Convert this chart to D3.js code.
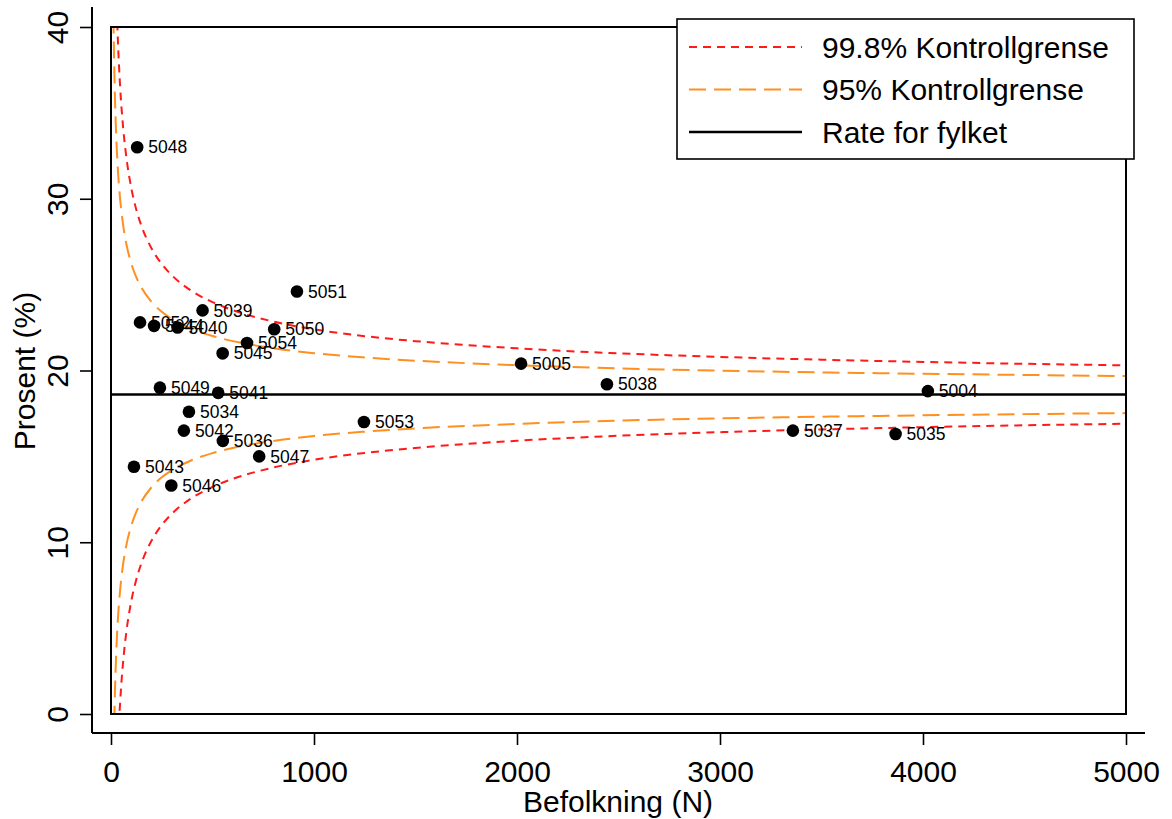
<!DOCTYPE html>
<html lang="no">
<head>
  <meta charset="UTF-8">
  <title>Funnel plot</title>
  <script src="https://d3js.org/d3.v7.min.js"></script>
  <style>
    body { margin: 0; background: #fff; }
    text { font-family: "Liberation Sans", Arial, sans-serif; }
  </style>
</head>
<body>

  <script>
    ((window, document) => {
      "use strict";


      /**
       * -----------------------------------------------------------------------
       *  Data
       * -----------------------------------------------------------------------
       */

      // Kommuner
      const ids = ["5048", "5051", "5039", "5052", "5044", "5040", "5050", "5054",
                   "5045", "5005", "5049", "5041", "5038", "5004", "5034", "5053",
                   "5042", "5036", "5047", "5043", "5046", "5037", "5035"];
      const population = [129, 916, 451, 143, 212, 328, 804, 670,
                          550, 2020, 241, 528, 2443, 4024, 384, 1246,
                          359, 551, 730, 113, 297, 3359, 3865];
      const percent = [33.0, 24.6, 23.5, 22.8, 22.6, 22.5, 22.4, 21.6,
                       21.0, 20.4, 19.0, 18.7, 19.2, 18.8, 17.6, 17.0,
                       16.5, 15.9, 15.0, 14.4, 13.3, 16.5, 16.3];

      // Rate for fylket
      const countyRate = 18.6;

      // Kontrollgrenser
      const limitN = [12, 13, 14, 15, 16, 17, 18, 20, 22, 25, 28, 32, 36, 40, 45, 50,
                      60, 75, 100, 125, 150, 200, 250, 300, 400, 500, 600, 800,
                      1000, 1250, 1500, 2000, 2500, 3000, 3500, 4000, 4500, 5000];
      const upper95 = [40.62, 39.75, 38.98, 38.29, 37.67, 37.10, 36.58, 35.65, 34.86, 33.85,
                       33.01, 32.08, 31.31, 30.66, 29.97, 29.39, 28.45, 27.41, 26.23, 25.42,
                       24.83, 23.99, 23.42, 23.00, 22.41, 22.01, 21.71, 21.30, 21.01, 20.76,
                       20.57, 20.31, 20.12, 19.99, 19.89, 19.81, 19.74, 19.68];
      const lower95 = [-3.42, -2.55, -1.78, -1.09, -0.47, 0.10, 0.62, 1.55, 2.34, 3.35,
                       4.19, 5.12, 5.89, 6.54, 7.23, 7.81, 8.75, 9.79, 10.97, 11.78,
                       12.37, 13.21, 13.78, 14.20, 14.79, 15.19, 15.49, 15.90, 16.19, 16.44,
                       16.63, 16.89, 17.08, 17.21, 17.31, 17.39, 17.46, 17.52];
      const upper998 = [53.31, 51.95, 50.74, 49.65, 48.66, 47.76, 46.94, 45.49, 44.23, 42.65,
                        41.32, 39.86, 38.64, 37.61, 36.53, 35.60, 34.12, 32.48, 30.62, 29.35,
                        28.42, 27.10, 26.20, 25.54, 24.61, 23.98, 23.51, 22.85, 22.40, 22.00,
                        21.71, 21.29, 21.00, 20.79, 20.63, 20.50, 20.39, 20.30];
      const lower998 = [-16.11, -14.75, -13.54, -12.45, -11.46, -10.56, -9.74, -8.29, -7.03, -5.45,
                        -4.12, -2.66, -1.44, -0.41, 0.67, 1.60, 3.08, 4.72, 6.58, 7.85,
                        8.78, 10.10, 11.00, 11.66, 12.59, 13.22, 13.69, 14.35, 14.80, 15.20,
                        15.49, 15.91, 16.20, 16.41, 16.57, 16.70, 16.81, 16.90];

      const xTicks = [0, 1000, 2000, 3000, 4000, 5000];
      const yTicks = [0, 10, 20, 30, 40];

      const legendItems = [
        { label: "99.8% Kontrollgrense", key: "r998" },
        { label: "95% Kontrollgrense", key: "r95" },
        { label: "Rate for fylket", key: "rate" },
      ];


      /**
       * -----------------------------------------------------------------------
       *  Render
       * -----------------------------------------------------------------------
       */

      const W = 1172, H = 819;
      const RED = "#ff1a1a", ORANGE = "#ff8f1f";
      const styles = {
        r998: { stroke: RED, width: 2, dash: "8,6" },
        r95: { stroke: ORANGE, width: 2, dash: "17,8" },
        rate: { stroke: "#000", width: 2.6, dash: null },
      };

      const x = d3.scaleLinear().domain([0, 5000]).range([111, 1126]);
      const y = d3.scaleLinear().domain([0, 40]).range([714, 27]);

      const svg = d3.select("body").append("svg")
        .attr("width", W).attr("height", H);

      svg.append("defs").append("clipPath").attr("id", "plotclip")
        .append("rect")
          .attr("x", x(0)).attr("y", y(40))
          .attr("width", x(5000) - x(0)).attr("height", y(0) - y(40));

      // Axes
      const xAxis = d3.axisBottom(x).tickValues(xTicks).tickFormat(d3.format("d"))
        .tickSize(12).tickSizeOuter(0);
      const yAxis = d3.axisLeft(y).tickValues(yTicks).tickFormat(d3.format("d"))
        .tickSize(12).tickSizeOuter(0);

      const gx = svg.append("g").attr("transform", "translate(0,733)").call(xAxis);
      gx.select(".domain").remove();
      gx.append("line").attr("x1", 92).attr("x2", 1145).attr("stroke", "#000").attr("stroke-width", 2);
      gx.selectAll(".tick line").attr("stroke-width", 1.6);
      gx.selectAll(".tick text")
        .attr("font-size", 30).attr("fill", "#000")
        .attr("dy", null).attr("y", 49);

      const gy = svg.append("g").attr("transform", "translate(92,0)").call(yAxis);
      gy.select(".domain").remove();
      gy.append("line").attr("y1", 7).attr("y2", 733).attr("stroke", "#000").attr("stroke-width", 2);
      gy.selectAll(".tick line").attr("stroke-width", 1.6);
      gy.selectAll(".tick text")
        .attr("font-size", 30).attr("fill", "#000")
        .attr("x", null).attr("dy", null)
        .attr("text-anchor", "middle")
        .attr("transform", "translate(-24,0) rotate(-90)");

      svg.append("text")
        .attr("x", 618).attr("y", 812)
        .attr("text-anchor", "middle").attr("font-size", 30)
        .text("Befolkning (N)");

      svg.append("text")
        .attr("transform", "translate(35,371) rotate(-90)")
        .attr("text-anchor", "middle").attr("font-size", 30)
        .text("Prosent (%)");

      // Control limits
      const curve = vals => d3.line()
        .x((d, i) => x(limitN[i]))
        .y(d => y(d))
        .curve(d3.curveMonotoneX)(vals);

      const plot = svg.append("g").attr("clip-path", "url(#plotclip)");
      [[upper998, "r998"], [lower998, "r998"], [upper95, "r95"], [lower95, "r95"]].forEach(([vals, key]) => {
        plot.append("path")
          .attr("d", curve(vals))
          .attr("fill", "none")
          .attr("stroke", styles[key].stroke)
          .attr("stroke-width", styles[key].width)
          .attr("stroke-dasharray", styles[key].dash);
      });

      plot.append("line")
        .attr("x1", x(0)).attr("x2", x(5000))
        .attr("y1", y(countyRate)).attr("y2", y(countyRate))
        .attr("stroke", "#000").attr("stroke-width", styles.rate.width);

      // Kommuner
      const points = svg.selectAll("g.pt")
        .data(ids)
        .enter().append("g")
          .attr("class", "pt")
          .attr("transform", (d, i) => `translate(${x(population[i])},${y(percent[i])})`);
      points.append("circle").attr("r", 6.3).attr("fill", "#000");
      points.append("text")
        .attr("x", 11).attr("dy", "0.35em")
        .attr("font-size", 17.5).attr("fill", "#000")
        .text(d => d);

      // Frame
      svg.append("rect")
        .attr("x", x(0)).attr("y", y(40))
        .attr("width", x(5000) - x(0)).attr("height", y(0) - y(40))
        .attr("fill", "none").attr("stroke", "#000").attr("stroke-width", 2);

      // Legend
      const legend = svg.append("g").attr("transform", "translate(677,19)");
      legend.append("rect")
        .attr("width", 457).attr("height", 140)
        .attr("fill", "#fff").attr("stroke", "#000").attr("stroke-width", 1.6);
      const rows = legend.selectAll("g")
        .data(legendItems)
        .enter().append("g")
          .attr("transform", (d, i) => `translate(0,${28 + 42.5 * i})`);
      rows.append("line")
        .attr("x1", 12).attr("x2", 125)
        .attr("stroke", d => styles[d.key].stroke)
        .attr("stroke-width", d => styles[d.key].width)
        .attr("stroke-dasharray", d => styles[d.key].dash);
      rows.append("text")
        .attr("x", 145).attr("dy", "0.35em")
        .attr("font-size", 30).attr("fill", "#000")
        .text(d => d.label);

    })(window, document);
  </script>

</body>
</html>
